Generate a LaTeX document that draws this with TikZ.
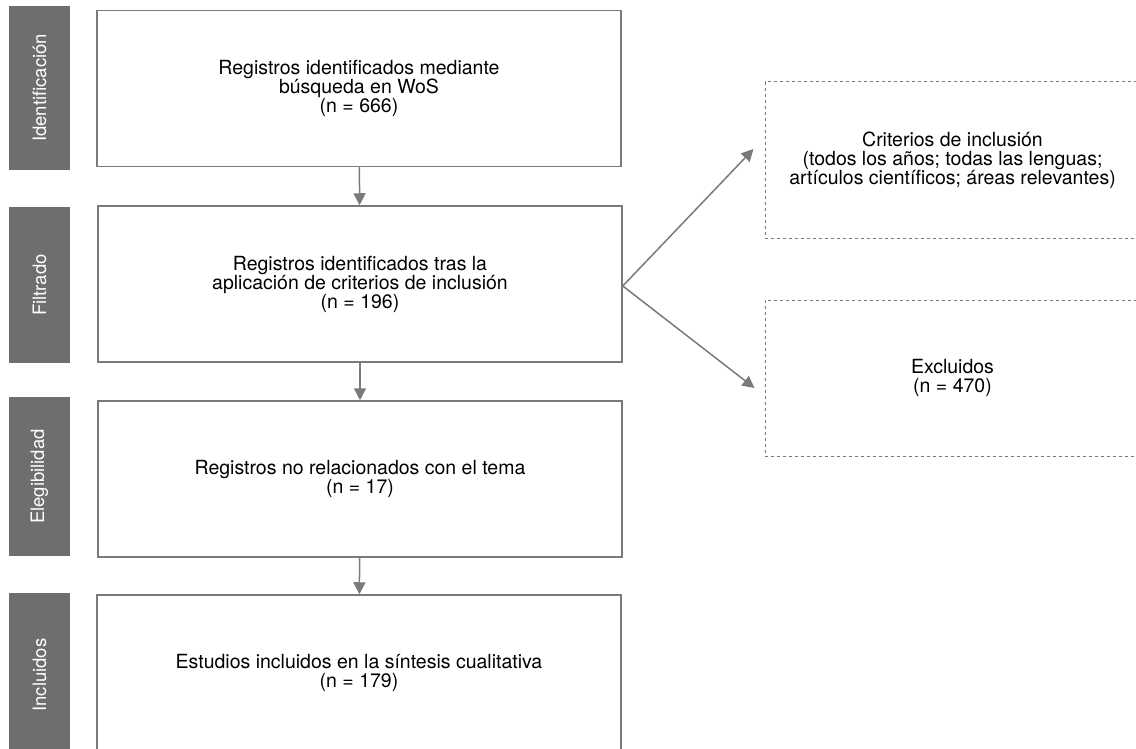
\documentclass[tikz,border=0pt]{standalone}
\usepackage{fontspec}
\setmainfont{TeX Gyre Heros}
\usetikzlibrary{arrows.meta}
\definecolor{linegray}{HTML}{7A7A7A}
\definecolor{bargray}{HTML}{6E6E6E}

\begin{document}
\begin{tikzpicture}[x=1pt, y=-1pt,
    txt/.style={align=center, font=\fontsize{19.5}{19}\selectfont},
    box/.style={txt, draw=linegray, line width=1.5pt, minimum width=524pt, minimum height=156pt},
    dashbox/.style={txt, draw=linegray, line width=1pt, dash pattern=on 3pt off 3pt, minimum width=375pt, minimum height=156pt},
    bar/.style={fill=bargray, text=white, rotate=90, minimum height=61pt, inner sep=0pt, font=\fontsize{18.5}{20}\selectfont},
    flow/.style={draw=linegray, line width=1.5pt, -{Triangle[width=12pt,length=12pt]}}]
    \useasboundingbox (0,0) rectangle (1136,749);
    \node[bar, minimum width=164pt] (idbar) at (39.5,88) {Identificación};
    \node[bar, minimum width=156pt] (filbar) at (39.5,285) {Filtrado};
    \node[bar, minimum width=159pt] (elbar) at (39.5,476.5) {Elegibilidad};
    \node[bar, minimum width=164pt] (inbar) at (39.5,675) {Incluidos};
    \node[box] (ident) at (359,88.5) {Registros identificados mediante\\búsqueda en WoS\\(n = 666)};
    \node[box] (filt) at (360,284) {Registros identificados tras la\\aplicación de criterios de inclusión\\(n = 196)};
    \node[box] (eleg) at (360,479) {Registros no relacionados con el tema\\(n = 17)};
    \node[box] (incl) at (359,673) {Estudios incluidos en la síntesis cualitativa\\(n = 179)};
    \node[dashbox] (crit) at (952.5,160) {Criterios de inclusión\\(todos los años; todas las lenguas;\\artículos científicos; áreas relevantes)};
    \node[dashbox] (excl) at (952.5,378) {Excluidos\\(n = 470)};
    \draw[flow] (ident) -- (filt);
    \draw[flow] (filt) -- (eleg);
    \draw[flow] (eleg) -- (incl);
    \draw[flow] ([yshift=-2pt]filt.east) -- ([shift={(-11pt,11pt)}]crit.west);
    \draw[flow] ([yshift=-2pt]filt.east) -- ([shift={(-10pt,-10pt)}]excl.west);
\end{tikzpicture}
\end{document}
